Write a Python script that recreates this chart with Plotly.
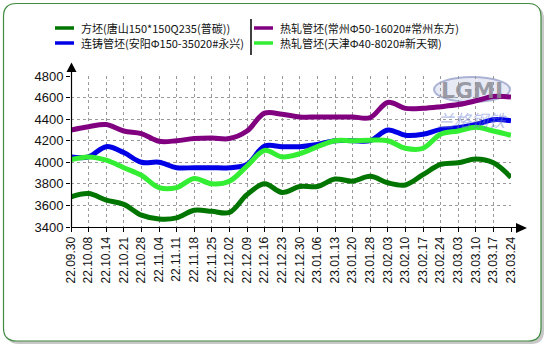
import plotly.graph_objects as go

# weekly price dates
dates = ["22.09.30", "22.10.08", "22.10.14", "22.10.21", "22.10.28", "22.11.04",
         "22.11.11", "22.11.18", "22.11.25", "22.12.02", "22.12.09", "22.12.16",
         "22.12.23", "22.12.30", "23.01.06", "23.01.13", "23.01.20", "23.01.28",
         "23.02.03", "23.02.10", "23.02.17", "23.02.24", "23.03.03", "23.03.10",
         "23.03.17", "23.03.24"]

billet_tangshan = [3680, 3710, 3650, 3610, 3510, 3475, 3485, 3555, 3545, 3535, 3700, 3800, 3720,
                   3775, 3775, 3845, 3825, 3870, 3810, 3790, 3885, 3980, 3995, 4030, 3995, 3860]
cc_tube_anyang = [4050, 4050, 4145, 4090, 4000, 4000, 3950, 3950, 3950, 3950, 3980, 4150, 4145,
                  4145, 4165, 4200, 4200, 4200, 4300, 4250, 4260, 4305, 4320, 4350, 4395, 4385]
hr_tube_changzhou = [4300, 4330, 4350, 4290, 4265, 4195, 4200, 4220, 4225, 4220, 4290, 4455, 4445,
                     4420, 4420, 4420, 4420, 4415, 4555, 4500, 4500, 4515, 4535, 4570, 4610, 4605]
hr_tube_tianjin = [4025, 4050, 4020, 3950, 3880, 3765, 3765, 3850, 3800, 3825, 3965, 4110, 4050,
                   4080, 4145, 4200, 4200, 4205, 4200, 4130, 4130, 4260, 4290, 4325, 4290, 4250]

names = ["方坯(唐山150*150Q235(普碳))", "连铸管坯(安阳Φ150-35020#永兴)",
         "热轧管坯(常州Φ50-16020#常州东方)", "热轧管坯(天津Φ40-8020#新天钢)"]
colors = ["#007500", "#0000e6", "#800080", "#33ee33"]
series = [billet_tangshan, cc_tube_anyang, hr_tube_changzhou, hr_tube_tianjin]

y_ticks = [3400, 3600, 3800, 4000, 4200, 4400, 4600, 4800]

W, H = 550, 350
ML, MR, MT, MB = 71, 39, 76, 123
PW, PH = W - ML - MR, H - MT - MB


def px(x):
    return (x - ML) / PW


def py(y):
    return (H - MB - y) / PH


fig = go.Figure()
# draw order: purple, blue, bright green, dark green on top
for idx in [2, 1, 3, 0]:
    fig.add_trace(go.Scatter(
        x=dates, y=series[idx], mode="lines", name=names[idx],
        line=dict(color=colors[idx], width=5, shape="spline", smoothing=1.0),
        showlegend=False, hoverinfo="skip"))

shapes = []
annotations = []

# rounded frame with a soft shadow
def rounded(x0, y0, x1, y1, r):
    rx, ry = r / PW, r / PH
    X0, X1, Y0, Y1 = px(x0), px(x1), py(y0), py(y1)
    return (f"M{X0 + rx},{Y0} L{X1 - rx},{Y0} Q{X1},{Y0} {X1},{Y0 - ry} "
            f"L{X1},{Y1 + ry} Q{X1},{Y1} {X1 - rx},{Y1} L{X0 + rx},{Y1} "
            f"Q{X0},{Y1} {X0},{Y1 + ry} L{X0},{Y0 - ry} Q{X0},{Y0} {X0 + rx},{Y0} Z")

shapes.append(dict(type="path", xref="paper", yref="paper", layer="below",
                   path=rounded(6, 6, 544, 344, 13), fillcolor="#c8c8c8",
                   line=dict(width=0)))
shapes.append(dict(type="path", xref="paper", yref="paper", layer="below",
                   path=rounded(3.5, 3.5, 541, 341, 13), fillcolor="white",
                   line=dict(color="#3f8a3f", width=1.2)))

# watermark logo
shapes.append(dict(type="circle", xref="paper", yref="paper", layer="below",
                   x0=px(434), x1=px(510), y0=py(102), y1=py(77),
                   fillcolor="rgba(215,220,238,0.6)",
                   line=dict(color="rgba(140,150,195,0.7)", width=2)))
annotations.append(dict(xref="paper", yref="paper", x=px(472), y=py(90), text="<b>LGMI</b>",
                        xanchor="center", yanchor="middle", showarrow=False,
                        font=dict(family="DejaVu Sans", size=22,
                                  color="rgba(140,140,150,0.85)")))
annotations.append(dict(xref="paper", yref="paper", x=px(472), y=py(119), text="<i>兰格钢铁</i>",
                        xanchor="center", yanchor="middle", showarrow=False,
                        font=dict(family="Noto Sans CJK SC", size=17,
                                  color="rgba(110,130,210,0.5)")))

# axis arrow heads and extensions
shapes.append(dict(type="line", xref="paper", yref="paper", x0=px(71.5), x1=px(71.5),
                   y0=py(227.5), y1=py(68), line=dict(color="black", width=1.2)))
shapes.append(dict(type="path", xref="paper", yref="paper",
                   path=f"M{px(71.5)},{py(62.5)} L{px(66.5)},{py(72)} L{px(76.5)},{py(72)} Z",
                   fillcolor="black", line=dict(width=0)))
shapes.append(dict(type="line", xref="paper", yref="paper", x0=px(71), x1=px(518),
                   y0=py(227.5), y1=py(227.5), line=dict(color="black", width=1.2)))
shapes.append(dict(type="path", xref="paper", yref="paper",
                   path=f"M{px(527)},{py(228)} L{px(516)},{py(223)} L{px(516)},{py(233)} Z",
                   fillcolor="black", line=dict(width=0)))

# legend: two columns separated by a vertical rule
leg_pos = [(55, 28), (55, 43), (254, 28), (254, 43)]
for (lx, ly), name, col in zip(leg_pos, names, colors):
    shapes.append(dict(type="line", xref="paper", yref="paper",
                       x0=px(lx), x1=px(lx + 19), y0=py(ly), y1=py(ly),
                       line=dict(color=col, width=3.5)))
    annotations.append(dict(xref="paper", yref="paper", x=px(lx + 24), y=py(ly),
                            xanchor="left", yanchor="middle", text=name, showarrow=False,
                            font=dict(family="Noto Sans CJK SC", size=11, color="#111")))
shapes.append(dict(type="line", xref="paper", yref="paper", x0=px(251), x1=px(251),
                   y0=py(19), y1=py(55), line=dict(color="black", width=1.5)))

fig.update_layout(
    width=W, height=H,
    margin=dict(l=ML, r=MR, t=MT, b=MB, pad=0),
    paper_bgcolor="white", plot_bgcolor="rgba(0,0,0,0)",
    shapes=shapes, annotations=annotations,
    xaxis=dict(type="category", range=[0, len(dates) - 1], tickangle=-90,
               showgrid=True, gridcolor="#9a9a9a", griddash="dot", gridwidth=1,
               ticks="outside", ticklen=4, tickcolor="black", showline=False,
               zeroline=False,
               tickfont=dict(family="Liberation Sans, Arial", size=12, color="#111")),
    yaxis=dict(range=[3400, 4800], tickvals=y_ticks, ticktext=[str(v) for v in y_ticks],
               showgrid=True, gridcolor="#9a9a9a", griddash="dot", gridwidth=1,
               ticks="outside", ticklen=4, tickcolor="black", showline=False,
               zeroline=False,
               tickfont=dict(family="Liberation Sans, Arial", size=13, color="#111")),
)

fig.write_html("out.html")
